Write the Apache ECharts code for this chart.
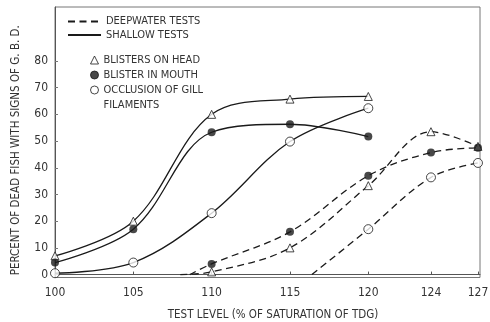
<!DOCTYPE html>
<html>
<head>
<meta charset="utf-8">
<script src="https://cdn.jsdelivr.net/npm/echarts@6/dist/echarts.min.js"></script>
<style>
  html, body { margin: 0; padding: 0; background: #fff; }
  #chart { width: 490px; height: 322px; }
</style>
</head>
<body>
<div id="chart"></div>
<script>
// Test levels (% of saturation of total dissolved gas)
const levelsShallow = [100, 105, 110, 115, 120];
const levelsDeep = [110, 115, 120, 124, 127];
const levelsDeepGill = [120, 124, 127];

// Percent of dead fish with each sign, shallow tests
const headShallow = [7, 20, 60, 65.7, 66.7];
const mouthShallow = [4.5, 17, 53.3, 56.3, 51.7];
const gillShallow = [0.5, 4.5, 23, 49.8, 62.3];

// Percent of dead fish with each sign, deepwater tests
const headDeep = [1, 10, 33.3, 53.5, 48];
const mouthDeep = [4, 16, 37, 45.7, 47.5];
const gillDeep = [17, 36.4, 41.8];

// Level at which each deepwater curve leaves zero
const headDeepStart = 108;
const mouthDeepStart = 108.6;
const gillDeepStart = 116.4;

const xTicks = [100, 105, 110, 115, 120, 124, 127];
const yTicks = [0, 10, 20, 30, 40, 50, 60, 70, 80];

const seriesNames = {
  deep: 'DEEPWATER TESTS',
  shallow: 'SHALLOW TESTS',
  head: 'BLISTERS ON HEAD',
  mouth: 'BLISTER IN MOUTH',
  gill: 'OCCLUSION OF GILL FILAMENTS'
};
const axisTitles = {
  x: 'TEST LEVEL (% OF SATURATION OF TDG)',
  y: 'PERCENT OF DEAD FISH WITH SIGNS OF G. B. D.'
};

const FONT = "'Liberation Sans Narrow', 'DejaVu Sans Condensed', 'Liberation Sans', sans-serif";
const INK = '#1a1a1a';
const TEXT = '#333';

const pairs = (xs, ys) => xs.map((x, i) => [x, ys[i]]);

function curve(name, data, dashed) {
  return {
    name: name,
    type: 'line',
    data: data,
    smooth: 0.35,
    symbol: 'none',
    silent: true,
    z: 2,
    lineStyle: {
      color: INK,
      width: 1.3,
      type: dashed ? [7, 4.5] : 'solid'
    },
    itemStyle: { color: INK }
  };
}

function markers(name, data, symbol, filled, size) {
  return {
    name: name,
    type: 'scatter',
    data: data,
    symbol: symbol,
    symbolSize: size,
    z: 5,
    itemStyle: {
      color: filled ? INK : '#fff',
      borderColor: INK,
      borderWidth: filled ? 0 : 1
    }
  };
}

const chart = echarts.init(document.getElementById('chart'), null, { renderer: 'canvas' });

const legendText = { fontFamily: FONT, fontSize: 11, color: TEXT, lineHeight: 13 };
const markerLegendStyle = { borderWidth: 1 };

chart.setOption({
  animation: false,
  backgroundColor: '#fff',
  grid: {
    left: 55, right: 10, top: 7, bottom: 44.5,
    containLabel: false,
    outerBoundsMode: 'none',
    show: true, borderColor: '#777', borderWidth: 1
  },
  xAxis: {
    type: 'value',
    min: 100, max: 127.13,
    name: axisTitles.x,
    nameLocation: 'middle',
    nameGap: 32,
    nameTextStyle: { fontFamily: FONT, fontSize: 11.5, color: TEXT, padding: [0, 0, 0, 11] },
    axisLine: { lineStyle: { color: '#555', width: 1 } },
    axisTick: { inside: true, length: 3, customValues: xTicks, lineStyle: { color: '#555' } },
    axisLabel: { customValues: xTicks, fontFamily: FONT, fontSize: 12, color: TEXT, margin: 9 },
    splitLine: { show: false }
  },
  yAxis: {
    type: 'value',
    min: -1.1, max: 100.2,
    name: axisTitles.y,
    nameLocation: 'middle',
    nameGap: 33,
    nameTextStyle: { fontFamily: FONT, fontSize: 11.5, color: TEXT, padding: [0, 16, 0, 0] },
    axisLine: { lineStyle: { color: '#555', width: 1 } },
    axisTick: { inside: true, length: 3, customValues: yTicks, lineStyle: { color: '#777' } },
    axisLabel: { customValues: yTicks, fontFamily: FONT, fontSize: 12, color: TEXT, margin: 7 },
    splitLine: { show: false }
  },
  legend: [
    {
      data: [seriesNames.deep, seriesNames.shallow],
      orient: 'vertical', left: 67, top: 15, padding: 0,
      itemWidth: 33, itemHeight: 10, itemGap: 0.5,
      // line swatches only, no point symbol on them
      itemStyle: { color: 'rgba(0,0,0,0)', borderColor: 'rgba(0,0,0,0)', borderWidth: 0 },
      selectedMode: false, textStyle: legendText
    },
    {
      data: [seriesNames.head, seriesNames.mouth],
      orient: 'vertical', left: 90, top: 53.5, padding: 0,
      itemWidth: 8, itemHeight: 8, itemGap: 2,
      itemStyle: markerLegendStyle,
      selectedMode: false, textStyle: legendText
    },
    {
      data: [seriesNames.gill],
      orient: 'vertical', left: 90, top: 67.5, padding: 0,
      itemWidth: 8, itemHeight: 8,
      itemStyle: markerLegendStyle,
      selectedMode: false,
      // two-line label with the symbol beside its first line
      formatter: function () {
        return '\nOCCLUSION OF GILL\nFILAMENTS';
      },
      textStyle: Object.assign({}, legendText, { lineHeight: 15 })
    }
  ],
  series: [
    curve(seriesNames.deep, [[headDeepStart, 0]].concat(pairs(levelsDeep, headDeep)), true),
    curve(seriesNames.deep, [[mouthDeepStart, 0]].concat(pairs(levelsDeep, mouthDeep)), true),
    curve(seriesNames.deep, [[gillDeepStart, 0]].concat(pairs(levelsDeepGill, gillDeep)), true),
    curve(seriesNames.shallow, pairs(levelsShallow, headShallow), false),
    curve(seriesNames.shallow, pairs(levelsShallow, mouthShallow), false),
    curve(seriesNames.shallow, pairs(levelsShallow, gillShallow), false),
    markers(seriesNames.head,
      pairs(levelsShallow, headShallow).concat(pairs(levelsDeep, headDeep)),
      'triangle', false, 8),
    markers(seriesNames.mouth,
      pairs(levelsShallow, mouthShallow).concat(pairs(levelsDeep, mouthDeep)),
      'circle', true, 8),
    markers(seriesNames.gill,
      pairs(levelsShallow, gillShallow).concat(pairs(levelsDeepGill, gillDeep)),
      'circle', false, 9)
  ]
});
</script>
</body>
</html>
